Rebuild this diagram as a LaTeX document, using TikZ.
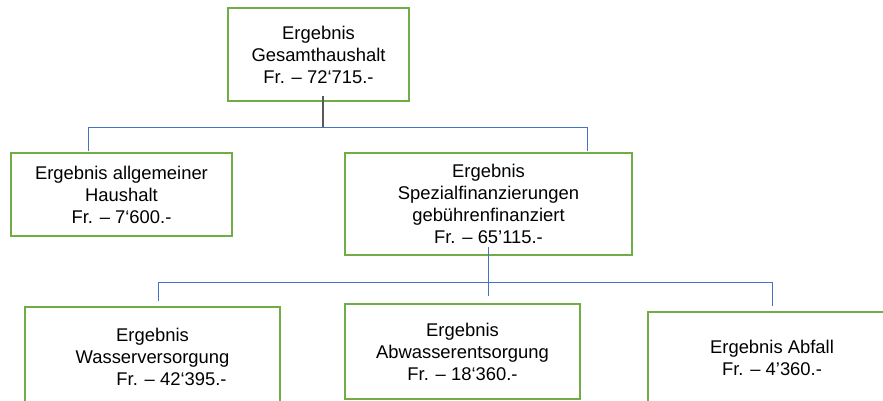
\documentclass[tikz,border=0pt]{standalone}
\usepackage{fontspec}
\setmainfont{Liberation Sans}
\usepackage{tikz}
\usetikzlibrary{positioning,calc}
\usepackage{xcolor}
\definecolor{boxgreen}{HTML}{70AD47}
\definecolor{linkblue}{HTML}{4472C4}
\definecolor{linkgray}{HTML}{595959}

\begin{document}
\begin{tikzpicture}[x=1pt,y=-1pt,
		ergebnis/.style={draw=boxgreen,line width=2pt,rectangle,inner sep=0pt,align=center,font=\fontsize{18.4}{22}\selectfont},
		verbindung/.style={draw=linkblue,line width=1pt},
		hauptlinie/.style={draw=linkgray,line width=1.3pt}]
				\useasboundingbox (0,0) rectangle (883,401);
				\clip (0,0) rectangle (883,401);
				
				% Gesamthaushalt oben
				\node[ergebnis,minimum width=181pt,minimum height=93pt] (gesamt) at (318.5,54.5) {Ergebnis\\Gesamthaushalt\\Fr. – 72‘715.-};
				
				% zweite Ebene
				\node[ergebnis,minimum width=221pt,minimum height=83pt] (allg) at (121.5,194.5) {Ergebnis allgemeiner\\Haushalt\\Fr. – 7‘600.-};
				\node[ergebnis,minimum width=287pt,minimum height=102pt] (spez) at (488.5,204) {Ergebnis\\Spezialfinanzierungen\\gebührenfinanziert\\Fr. – 65’115.-};
				
				% dritte Ebene
				\node[ergebnis,minimum width=255pt,minimum height=100pt] (wasser) at (152.5,357) {Ergebnis\\Wasserversorgung\\\hspace*{38pt}Fr. – 42‘395.-};
				\node[ergebnis,minimum width=235pt,minimum height=95pt] (abwasser) at (462.5,351.5) {Ergebnis\\Abwasserentsorgung\\Fr. – 18‘360.-};
				\node[ergebnis,minimum width=248pt,minimum height=92pt] (abfall) at (772,358) {Ergebnis Abfall\\Fr. – 4’360.-};
				
				% Verbindungen
				\coordinate (ebene1) at (323,128);
				\coordinate (ebene1l) at (88,128);
				\coordinate (ebene1r) at (587,128);
				\coordinate (ebene2l) at (158,282);
				\coordinate (ebene2r) at (772,282);
				\draw[hauptlinie] (ebene1 |- gesamt.south) ++(0,-6) -- (ebene1);
				\draw[verbindung] ($(ebene1l |- allg.north)+(0,-1)$) -- (ebene1l) -- (ebene1r) -- ($(ebene1r |- spez.north)+(0,-1)$);
				\draw[verbindung] ($(spez.south)+(0,-9)$) -- ($(spez.south |- ebene2l)+(0,14)$);
				\draw[verbindung] ($(ebene2l |- wasser.north)+(0,-5)$) -- (ebene2l) -- (ebene2r) -- ($(ebene2r |- abfall.north)+(0,-5)$);
				
\end{tikzpicture}
\end{document}
